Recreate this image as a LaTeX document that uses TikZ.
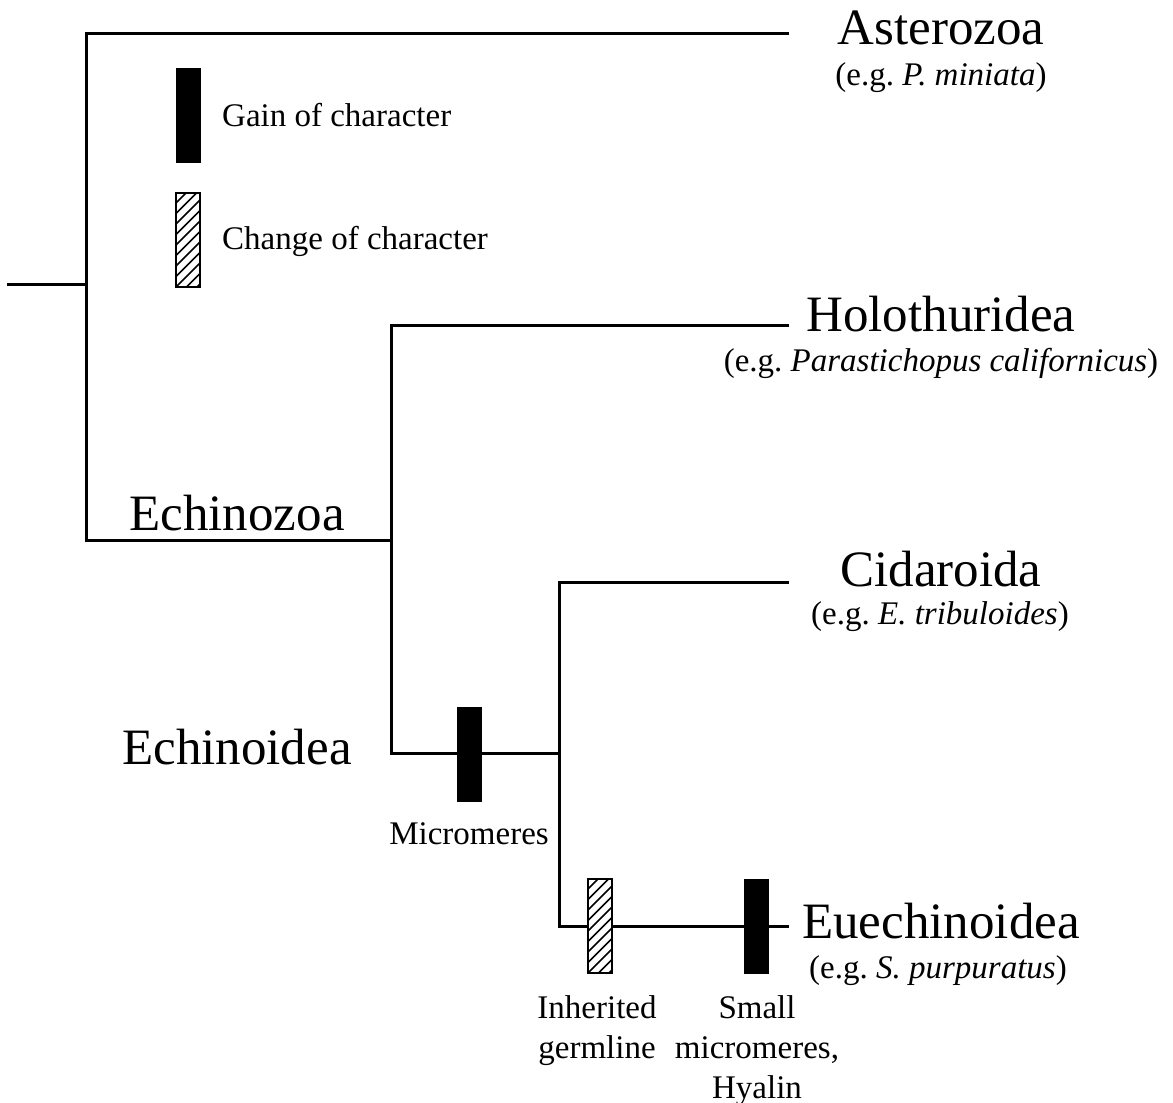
\documentclass[tikz,border=0pt]{standalone}
\usepackage{fontspec}
\setmainfont{Liberation Serif}
\frenchspacing
\newcommand{\bigtxt}{\fontsize{51}{60}\selectfont}
\newcommand{\smalltxt}{\fontsize{33}{40}\selectfont}
\begin{document}
\begin{tikzpicture}[x=1pt,y=-1pt,
  branch/.style={line width=3pt, line join=miter, line cap=rect},
  gainbox/.style={draw=black, fill=black, line width=0.8pt, minimum width=24pt, minimum height=94pt, inner sep=0pt},
  hatchbox/.style={draw=black, fill=white, line width=1.5pt, minimum width=24pt, minimum height=94pt, inner sep=0pt,
    path picture={\foreach \k in {-4,...,10}{\draw[line width=1.5pt] ([yshift=\k*10.5pt]path picture bounding box.south west) -- ++(40pt,40pt);}}},
  taxon/.style={anchor=base, font=\bigtxt, inner sep=0pt},
  example/.style={anchor=base, font=\smalltxt, inner sep=0pt},
  note/.style={font=\smalltxt, inner sep=0pt, align=center}]
\useasboundingbox (0,0) rectangle (1173,1103);

% tree coordinates
\coordinate (r) at (8,284);
\coordinate (a) at (86,284);
\coordinate (aT) at (86,33);
\coordinate (aB) at (86,540);
\coordinate (astE) at (787,33);
\coordinate (b) at (391,540);
\coordinate (bT) at (391,325);
\coordinate (bB) at (391,753);
\coordinate (holE) at (787,325);
\coordinate (c) at (559,753);
\coordinate (cT) at (559,582);
\coordinate (cB) at (559,926);
\coordinate (cidE) at (787,582);
\coordinate (eueE) at (787,926);

\draw[branch] (r) -- (a);
\draw[branch] (astE) -- (aT) -- (aB) -- (b);
\draw[branch] (holE) -- (bT) -- (bB) -- (c);
\draw[branch] (cidE) -- (cT) -- (cB) -- (eueE);

% character boxes on branches
\node[gainbox] (micro) at (469.5,754) {};
\node[hatchbox] (germ) at (600,926) {};
\node[gainbox] (small) at (756,926) {};

% legend
\node[gainbox] (lgain) at (188.5,115.5) {};
\node[hatchbox] (lchange) at (188,240) {};
\node[font=\smalltxt, anchor=base west, inner sep=0pt] (lgaint) at (222,126) {Gain of character};
\node[font=\smalltxt, anchor=base west, inner sep=0pt] (lchanget) at (222,249) {Change of character};

% taxa
\node[taxon] (ast) at (941,44) {Asterozoa};
\node[example] (astx) at (941,85) {(e.g. \textit{P. miniata})};
\node[taxon] (hol) at (941,331) {Holothuridea};
\node[example] (holx) at (941,371) {(e.g. \textit{Parastichopus californicus})};
\node[taxon] (cid) at (941,586) {Cidaroida};
\node[example] (cidx) at (940,624) {(e.g. \textit{E. tribuloides})};
\node[taxon] (eue) at (941,938) {Euechinoidea};
\node[example] (euex) at (938,978) {(e.g. \textit{S. purpuratus})};

% clade labels
\node[taxon] (echz) at (237,530) {Echinozoa};
\node[taxon] (echd) at (237,764) {Echinoidea};

% character labels
\node[note, anchor=base] (microt) at (469,844) {Micromeres};
\node[note, anchor=north] (germt) at (597,995) {Inherited\\germline};
\node[note, anchor=north] (smallt) at (757,995) {Small\\micromeres,\\Hyalin};
\end{tikzpicture}
\end{document}
